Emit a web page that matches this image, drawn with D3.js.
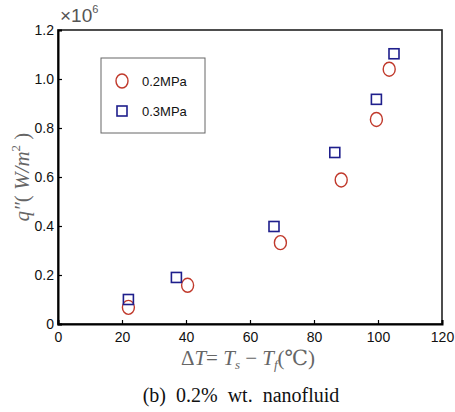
<!doctype html>
<html lang="en">
<head>
<meta charset="utf-8">
<title>Heat flux vs superheat</title>
<script src="https://d3js.org/d3.v7.min.js"></script>
<style>
  body { margin: 0; background: #fff; }
  svg text { font-family: "Liberation Sans", Arial, sans-serif; }
</style>
</head>
<body>
<div id="main"></div>
<script>
// readings (heat flux in units of 1e6 W/m^2)
const seriesNames = ['0.2MPa', '0.3MPa']
const dT_02 = [22, 40.5, 69.5, 88.5, 99.5, 103.5]
const q_02 = [0.068, 0.158, 0.332, 0.588, 0.835, 1.04]
const dT_03 = [22, 37, 67.5, 86.5, 99.5, 105]
const q_03 = [0.10, 0.19, 0.398, 0.70, 0.917, 1.103]
const xTicks = [0, 20, 40, 60, 80, 100, 120]
const yTicks = [0, 0.2, 0.4, 0.6, 0.8, 1.0, 1.2]

const W = 455, H = 412
const margin = {left: 58, right: 13, top: 30, bottom: 88}

const svg = d3.select('#main').append('svg')
  .attr('width', W).attr('height', H)

const x = d3.scaleLinear().domain([0, 120]).range([margin.left, W - margin.right])
const y = d3.scaleLinear().domain([0, 1.2]).range([H - margin.bottom, margin.top])

// frame
svg.append('rect')
  .attr('x', x(0)).attr('y', y(1.2))
  .attr('width', x(120) - x(0)).attr('height', y(0) - y(1.2))
  .attr('fill', 'none').attr('stroke', '#222').attr('stroke-width', 1.6)

const xAxis = svg.append('g')
  .attr('transform', `translate(0,${y(0)})`)
  .call(d3.axisBottom(x).tickValues(xTicks).tickSize(-4).tickPadding(8).tickFormat(d3.format('d')))
const yAxis = svg.append('g')
  .attr('transform', `translate(${x(0)},0)`)
  .call(d3.axisLeft(y).tickValues(yTicks).tickSize(-4).tickPadding(4)
    .tickFormat(d => d === 0 ? '0' : d3.format('.1f')(d)))

;[xAxis, yAxis].forEach(g => {
  g.select('.domain').attr('stroke', '#000').attr('stroke-width', 2)
  g.selectAll('.tick line').attr('stroke', '#000').attr('stroke-width', 1.2)
  g.selectAll('.tick text').attr('font-size', 14).attr('fill', '#111')
    .style('font-family', '"Liberation Sans", Arial, sans-serif')
})

// exponent label
const expo = svg.append('text')
  .attr('x', 60).attr('y', 22)
  .attr('font-size', 19).attr('fill', '#555')
  .style('font-family', '"Liberation Sans", Arial, sans-serif')
expo.append('tspan').text('×10')
expo.append('tspan').attr('dy', -9).attr('font-size', 11).text('6')

// points
const pts02 = dT_02.map((d, i) => ({x: d, y: q_02[i]}))
const pts03 = dT_03.map((d, i) => ({x: d, y: q_03[i]}))

svg.append('g').selectAll('ellipse').data(pts02).enter().append('ellipse')
  .attr('cx', d => x(d.x)).attr('cy', d => y(d.y))
  .attr('rx', 6).attr('ry', 7)
  .attr('fill', 'none').attr('stroke', '#c0392b').attr('stroke-width', 1.4)

svg.append('g').selectAll('rect').data(pts03).enter().append('rect')
  .attr('x', d => x(d.x) - 5).attr('y', d => y(d.y) - 5)
  .attr('width', 10).attr('height', 10)
  .attr('fill', 'none').attr('stroke', '#1f1f8c').attr('stroke-width', 1.6)

// legend
const lg = svg.append('g').attr('transform', 'translate(101,58)')
lg.append('rect').attr('width', 104).attr('height', 75)
  .attr('fill', '#fff').attr('stroke', '#666').attr('stroke-width', 1)
lg.append('ellipse').attr('cx', 21).attr('cy', 23).attr('rx', 6).attr('ry', 7)
  .attr('fill', 'none').attr('stroke', '#c0392b').attr('stroke-width', 1.4)
lg.append('rect').attr('x', 16).attr('y', 48).attr('width', 10).attr('height', 10)
  .attr('fill', 'none').attr('stroke', '#1f1f8c').attr('stroke-width', 1.6)
lg.selectAll('text.lbl').data(seriesNames).enter().append('text')
  .attr('class', 'lbl')
  .attr('x', 41).attr('y', (d, i) => 28 + i * 30)
  .attr('font-size', 13).attr('fill', '#111')
  .text(d => d)

// axis titles
const serif = '"Liberation Serif", "DejaVu Serif", serif'
const xl = svg.append('text')
  .attr('x', 248).attr('y', 365).attr('text-anchor', 'middle')
  .attr('font-size', 21).attr('fill', '#666').style('font-family', serif)
xl.append('tspan').text('Δ')
xl.append('tspan').attr('font-style', 'italic').text('T')
xl.append('tspan').text('= ')
xl.append('tspan').attr('font-style', 'italic').text('T')
xl.append('tspan').attr('font-size', 13).attr('dy', 4).attr('font-style', 'italic').text('s')
xl.append('tspan').attr('dy', -4).text(' − ')
xl.append('tspan').attr('font-style', 'italic').text('T')
xl.append('tspan').attr('font-size', 13).attr('dy', 4).attr('font-style', 'italic').text('f')
xl.append('tspan').attr('dy', -4).text('(℃)')

const yl = svg.append('text')
  .attr('transform', 'translate(29,177) rotate(-90)').attr('text-anchor', 'middle')
  .attr('font-size', 21).attr('fill', '#666').style('font-family', serif)
yl.append('tspan').attr('font-style', 'italic').text('q″')
yl.append('tspan').text('( ')
yl.append('tspan').attr('font-style', 'italic').text('W/m')
yl.append('tspan').attr('font-size', 13).attr('dy', -9).text('2')
yl.append('tspan').attr('dy', 9).text(' )')

// caption
svg.append('text')
  .attr('x', 241).attr('y', 402).attr('text-anchor', 'middle')
  .attr('font-size', 20).attr('fill', '#111').style('font-family', serif)
  .style('white-space', 'pre')
  .text('(b)  0.2%  wt.  nanofluid')
</script>
</body>
</html>
